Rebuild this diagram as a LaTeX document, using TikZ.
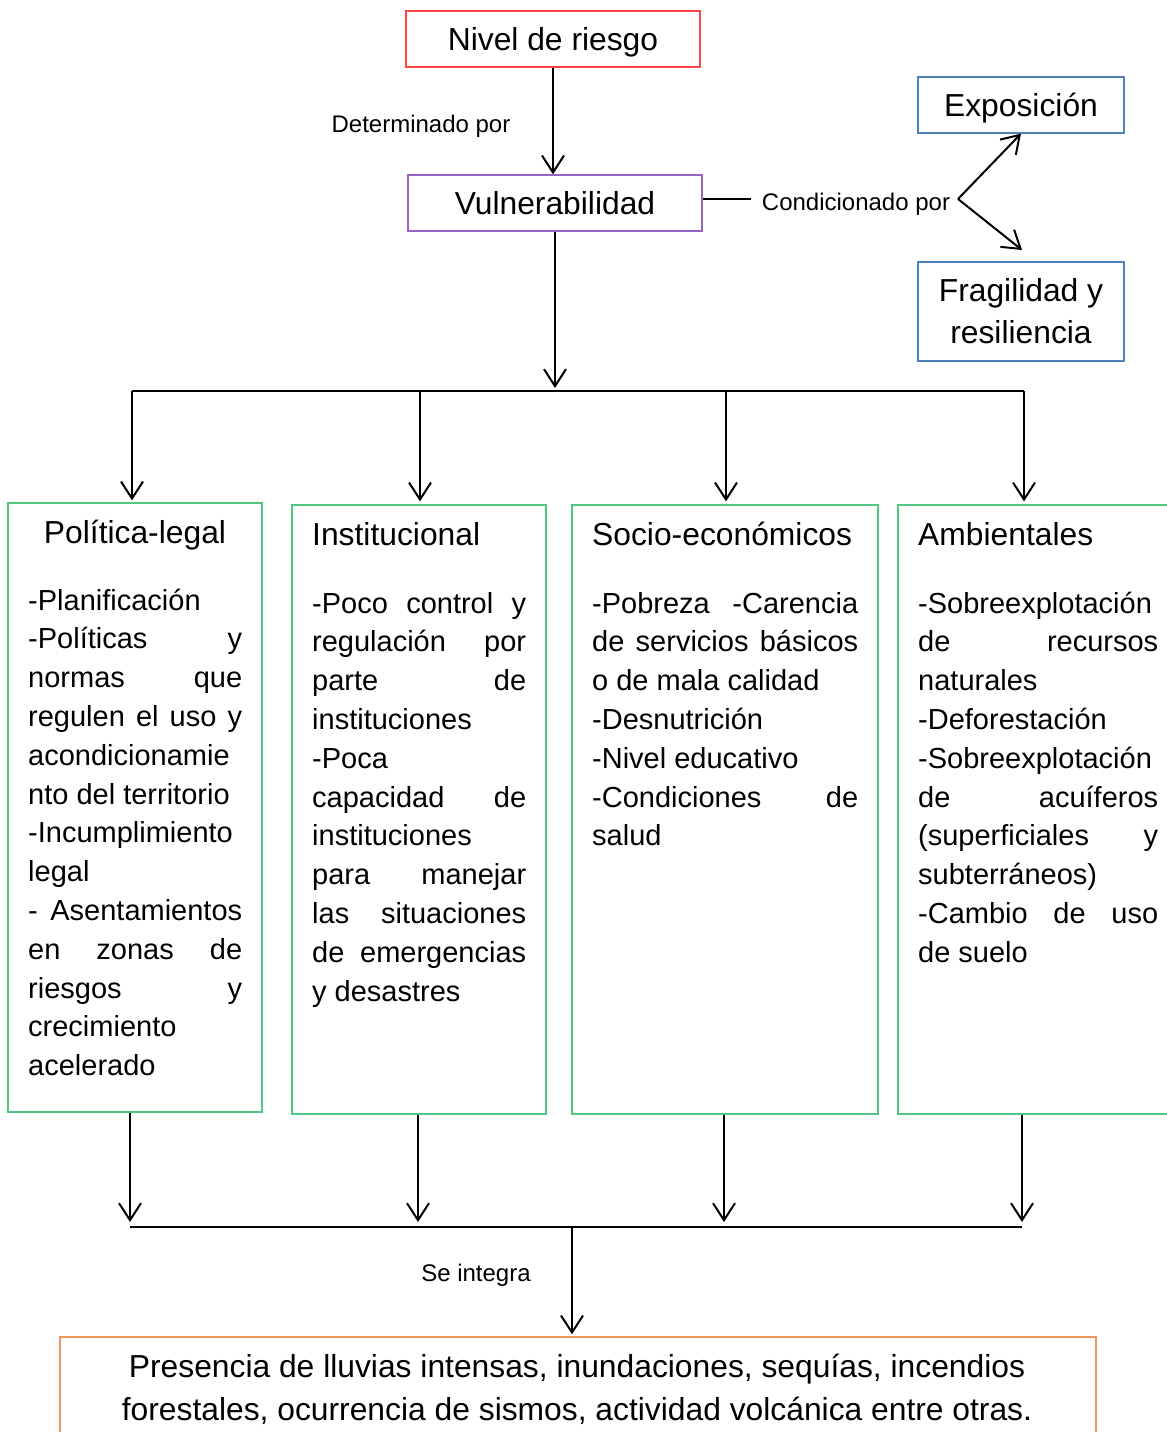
\documentclass[tikz,border=0pt]{standalone}
\usepackage{fontspec}
\setmainfont{Liberation Sans}
\usetikzlibrary{arrows.meta}
\definecolor{riskred}{RGB}{255,70,70}
\definecolor{vulpurple}{RGB}{150,100,195}
\definecolor{condblue}{RGB}{79,129,189}
\definecolor{factgreen}{RGB}{80,200,130}
\definecolor{resorange}{RGB}{240,150,90}
% one justified line of a given width
\newcommand{\jcol}[2]{\makebox[#1][s]{#2}}
\begin{document}
\begin{tikzpicture}[x=1pt,y=-1pt,
  box/.style={draw, line width=1.3pt, inner sep=0pt},
  title/.style={font=\fontsize{31.8}{38}\selectfont, text height=23pt, text depth=0pt},
  conn/.style={line width=2pt, black},
  arr/.style={conn, -{Straight Barb[length=17pt,width=22pt]}},
  lbl/.style={font=\fontsize{24}{28}\selectfont, inner sep=0pt},
  head/.style={font=\fontsize{31.8}{42}\selectfont, inner sep=0pt},
  body/.style={anchor=north west, inner sep=0pt, align=left,
    font=\fontsize{29}{38.8}\selectfont}]
\clip (0,0) rectangle (1167,1432);
\fill[white] (0,0) rectangle (1167,1432);

% top chain
\node[box, title, draw=riskred, minimum width=294pt, minimum height=56pt] (nivel) at (553,39) {Nivel de riesgo};
\node[box, title, draw=vulpurple, minimum width=294pt, minimum height=56pt] (vul) at (555,203) {Vulnerabilidad};
\node[lbl] (det) at (421,126) {Determinado por};
\draw[arr] (nivel.south) -- (nivel.south |- vul.north);

% conditioning factors
\node[box, title, draw=condblue, minimum width=206pt, minimum height=56pt] (expo) at (1021,105) {Exposición};
\node[box, draw=condblue, minimum width=206pt, minimum height=99pt,
  align=center, font=\fontsize{31.8}{42}\selectfont] (frag) at (1021,311.5)
  {Fragilidad y\\resiliencia};
\node[lbl, inner xsep=11pt] (cond) at (856,204) {Condicionado por};
\coordinate (apex) at (958,199);
\coordinate (fragtip) at (1022,250);
\draw[conn] (vul.east |- apex) -- (cond.west |- apex);
\draw[arr] (apex) -- (expo.south);
\draw[arr] (apex) -- (fragtip);

% distribution to the four groups
\coordinate (d1) at (132,391);
\coordinate (d2) at (420,391);
\coordinate (d3) at (726,391);
\coordinate (d4) at (1024,391);
\draw[arr, shorten >=3pt] (vul.south) -- (vul.south |- d1);
\draw[conn] (d1) -- (d4);

% factor boxes
\node[box, draw=factgreen, minimum width=254pt, minimum height=609pt] (pol) at (135,807.5) {};
\node[box, draw=factgreen, minimum width=254pt, minimum height=609pt] (ins) at (419,809.5) {};
\node[box, draw=factgreen, minimum width=306pt, minimum height=609pt] (soc) at (725,809.5) {};
\node[box, draw=factgreen, minimum width=276pt, minimum height=609pt] (amb) at (1036,809.5) {};

\draw[arr, shorten >=2pt] (d1) -- (d1 |- pol.north);
\draw[arr, shorten >=3pt] (d2) -- (d2 |- ins.north);
\draw[arr, shorten >=3pt] (d3) -- (d3 |- soc.north);
\draw[arr, shorten >=3pt] (d4) -- (d4 |- amb.north);

% headings
\node[head, anchor=base] (polh) at (135,543) {Política-legal};
\node[head, anchor=base west] (insh) at (312,545) {Institucional};
\node[head, anchor=base west] (soch) at (592,545) {Socio-económicos};
\node[head, anchor=base west] (ambh) at (918,545) {Ambientales};

% item lists
\node[body] (polt) at (28,582.8) {\strut-Planificación\\
\jcol{214pt}{-Políticas y}\\
\jcol{214pt}{normas que}\\
\jcol{214pt}{regulen el uso y}\\
acondicionamie\\
nto del territorio\\
-Incumplimiento\\
legal\\
\jcol{214pt}{- Asentamientos}\\
\jcol{214pt}{en zonas de}\\
\jcol{214pt}{riesgos y}\\
crecimiento\\
acelerado};

\node[body] (inst) at (312,585.8) {\strut\jcol{214pt}{-Poco control y}\\
\jcol{214pt}{regulación por}\\
\jcol{214pt}{parte de}\\
instituciones\\
-Poca\\
\jcol{214pt}{capacidad de}\\
instituciones\\
\jcol{214pt}{para manejar}\\
\jcol{214pt}{las situaciones}\\
\jcol{214pt}{de emergencias}\\
y desastres};

\node[body] (soct) at (592,585.8) {\strut\jcol{266pt}{-Pobreza -Carencia}\\
\jcol{266pt}{de servicios básicos}\\
o de mala calidad\\
-Desnutrición\\
-Nivel educativo\\
\jcol{266pt}{-Condiciones de}\\
salud};

\node[body] (ambt) at (918,585.8) {\strut-Sobreexplotación\\
\jcol{240pt}{de recursos}\\
naturales\\
-Deforestación\\
-Sobreexplotación\\
\jcol{240pt}{de acuíferos}\\
\jcol{240pt}{(superficiales y}\\
subterráneos)\\
\jcol{240pt}{-Cambio de uso}\\
de suelo};

% integration
\coordinate (u1) at (130,1227);
\coordinate (u2) at (418,1227);
\coordinate (u3) at (724,1227);
\coordinate (u4) at (1022,1227);
\coordinate (j) at (572,1227);
\draw[arr, shorten >=5pt] (u1 |- pol.south) -- (u1);
\draw[arr, shorten >=5pt] (u2 |- ins.south) -- (u2);
\draw[arr, shorten >=5pt] (u3 |- soc.south) -- (u3);
\draw[arr, shorten >=5pt] (u4 |- amb.south) -- (u4);
\draw[conn] (u1) -- (u4);

\node[box, draw=resorange, minimum width=1036pt, minimum height=123pt] (res) at (578,1398.5) {};
\draw[arr, shorten >=2pt] (j) -- (j |- res.north);
\node[lbl] (integ) at (476,1275) {Se integra};
\node[align=center, inner sep=0pt, font=\fontsize{31.8}{43}\selectfont] (rest) at (577,1389)
  {Presencia de lluvias intensas, inundaciones, sequías, incendios\\
   forestales, ocurrencia de sismos, actividad volcánica entre otras.};
\end{tikzpicture}
\end{document}
